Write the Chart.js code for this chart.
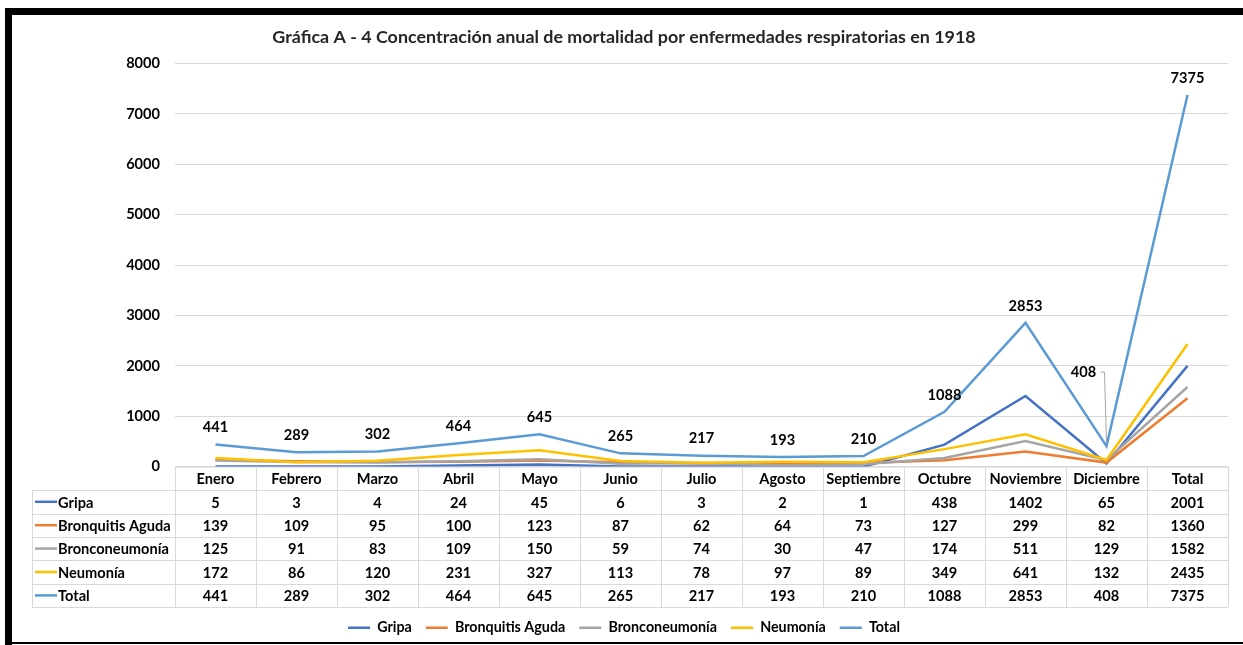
<!DOCTYPE html>
<html>
<head>
<meta charset="utf-8">
<script src="https://cdn.jsdelivr.net/npm/chart.js@4.4.1/dist/chart.umd.min.js"></script>
<style>
  html, body { margin: 0; padding: 0; background: #fff; }
  #grafica { display: block; }
</style>
</head>
<body>
<canvas id="grafica" width="1243" height="645"></canvas>
<script>
// datos de la grafica
const categorias = ['Enero', 'Febrero', 'Marzo', 'Abril', 'Mayo', 'Junio', 'Julio', 'Agosto', 'Septiembre', 'Octubre', 'Noviembre', 'Diciembre', 'Total'];
const gripa = [5, 3, 4, 24, 45, 6, 3, 2, 1, 438, 1402, 65, 2001];
const bronquitis = [139, 109, 95, 100, 123, 87, 62, 64, 73, 127, 299, 82, 1360];
const bronconeumonia = [125, 91, 83, 109, 150, 59, 74, 30, 47, 174, 511, 129, 1582];
const neumonia = [172, 86, 120, 231, 327, 113, 78, 97, 89, 349, 641, 132, 2435];
const total = [441, 289, 302, 464, 645, 265, 217, 193, 210, 1088, 2853, 408, 7375];
const yMin = 0, yMax = 8000, yPaso = 1000;

const fuente = 'Lato, "Open Sans", sans-serif';

const series = [
    { label: 'Gripa', data: gripa, color: '#4472C4' },
    { label: 'Bronquitis Aguda', data: bronquitis, color: '#ED7D31' },
    { label: 'Bronconeumonía', data: bronconeumonia, color: '#A5A5A5' },
    { label: 'Neumonía', data: neumonia, color: '#FFC000' },
    { label: 'Total', data: total, color: '#5B9BD5' }
];

// marco negro alrededor de la imagen
const marcoPlugin = {
    id: 'marco',
    beforeDraw(chart) {
        const ctx = chart.ctx;
        ctx.save();
        ctx.fillStyle = '#fff';
        ctx.fillRect(0, 0, chart.width, chart.height);
        ctx.restore();
    },
    afterDraw(chart) {
        const ctx = chart.ctx;
        ctx.save();
        ctx.fillStyle = '#000';
        ctx.fillRect(5, 8, chart.width - 5, 7);
        ctx.fillRect(5, 8, 7, chart.height - 8);
        ctx.fillRect(5, chart.height - 3, chart.width - 5, 2);
        ctx.restore();
    }
};

// tabla de datos debajo del eje x
const tablaPlugin = {
    id: 'tabla',
    afterDraw(chart) {
        const ctx = chart.ctx;
        const xs = chart.scales.x;
        const area = chart.chartArea;
        const n = categorias.length;
        const paso = xs.getPixelForValue(1) - xs.getPixelForValue(0);
        const izq = xs.getPixelForValue(0) - paso / 2;
        const der = xs.getPixelForValue(n - 1) + paso / 2;
        const filaH = 23.4;
        const arriba = area.bottom;
        const abajo = arriba + filaH * (series.length + 1);
        const colEtiqueta = 32;

        ctx.save();
        ctx.strokeStyle = '#d9d9d9';
        ctx.lineWidth = 1;
        ctx.beginPath();
        // lineas horizontales
        ctx.moveTo(izq, arriba + 0.5);
        ctx.lineTo(der, arriba + 0.5);
        for (let r = 1; r <= series.length + 1; r++) {
            const y = Math.round(arriba + filaH * r) + 0.5;
            ctx.moveTo(colEtiqueta, y);
            ctx.lineTo(der, y);
        }
        // lineas verticales
        for (let i = 0; i <= n; i++) {
            const x = Math.round(izq + paso * i) + 0.5;
            ctx.moveTo(x, arriba);
            ctx.lineTo(x, abajo);
        }
        ctx.moveTo(colEtiqueta + 0.5, arriba + filaH);
        ctx.lineTo(colEtiqueta + 0.5, abajo);
        ctx.stroke();

        ctx.fillStyle = '#000';
        ctx.font = 'bold 14.6px ' + fuente;
        ctx.textBaseline = 'middle';
        ctx.textAlign = 'center';
        categorias.forEach((c, i) => {
            ctx.fillText(c, xs.getPixelForValue(i), arriba + filaH / 2 + 1);
        });
        series.forEach((s, r) => {
            const yc = arriba + filaH * (r + 1.5) + 1;
            ctx.textAlign = 'center';
            s.data.forEach((v, i) => {
                ctx.fillText(String(v), xs.getPixelForValue(i), yc);
            });
            ctx.strokeStyle = s.color;
            ctx.lineWidth = 2.5;
            ctx.beginPath();
            ctx.moveTo(colEtiqueta + 3, yc - 1);
            ctx.lineTo(colEtiqueta + 25, yc - 1);
            ctx.stroke();
            ctx.textAlign = 'left';
            ctx.fillText(s.label, colEtiqueta + 26, yc);
        });
        ctx.restore();
    }
};

// etiquetas de la serie Total
const etiquetasPlugin = {
    id: 'etiquetas',
    afterDatasetsDraw(chart) {
        const ctx = chart.ctx;
        const idx = series.length - 1;
        const meta = chart.getDatasetMeta(idx);
        ctx.save();
        ctx.fillStyle = '#000';
        ctx.font = 'bold 14.6px ' + fuente;
        ctx.textAlign = 'center';
        ctx.textBaseline = 'middle';
        meta.data.forEach((p, i) => {
            const texto = String(total[i]);
            if (i === 11) {
                // etiqueta desplazada con linea guia
                const lx = p.x - 21, ly = p.y - 74;
                ctx.strokeStyle = '#a6a6a6';
                ctx.lineWidth = 1;
                ctx.beginPath();
                ctx.moveTo(lx + 15, ly);
                ctx.lineTo(lx + 19, ly);
                ctx.lineTo(p.x, p.y - 3);
                ctx.stroke();
                ctx.fillText(texto, lx - 2, ly);
            } else {
                ctx.fillText(texto, p.x, p.y - 17);
            }
        });
        ctx.restore();
    }
};

new Chart(document.getElementById('grafica'), {
    type: 'line',
    data: {
        labels: categorias,
        datasets: series.map((s, i) => ({
            label: s.label,
            data: s.data,
            borderColor: s.color,
            backgroundColor: s.color,
            borderWidth: 2.5,
            pointRadius: 0,
            tension: 0,
            order: series.length - i
        }))
    },
    options: {
        responsive: false,
        animation: false,
        layout: { padding: { left: 20, right: 15, top: 16, bottom: 0 } },
        plugins: {
            title: {
                display: true,
                text: 'Gráfica A - 4 Concentración anual de mortalidad por enfermedades respiratorias en 1918',
                color: '#262626',
                font: { family: fuente, size: 17.9, weight: 'bold' },
                padding: { top: 10, bottom: 16 }
            },
            legend: {
                position: 'bottom',
                labels: {
                    color: '#000',
                    font: { family: fuente, size: 14.3, weight: 'bold' },
                    usePointStyle: true,
                    pointStyle: 'line',
                    pointStyleWidth: 22,
                    padding: 14,
                    sort: (a, b) => a.datasetIndex - b.datasetIndex
                }
            },
            tooltip: { enabled: false }
        },
        scales: {
            x: {
                type: 'category',
                offset: true,
                ticks: { display: false },
                grid: { display: false },
                border: { display: false },
                afterFit(scale) { scale.height = 140; }
            },
            y: {
                min: yMin,
                max: yMax,
                ticks: {
                    stepSize: yPaso,
                    color: '#000',
                    padding: 15,
                    font: { family: fuente, size: 14.6, weight: 'bold' },
                    callback: (v) => String(v)
                },
                grid: { color: '#d9d9d9', drawTicks: false },
                border: { display: false },
                afterFit(scale) { scale.width = 155; }
            }
        }
    },
    plugins: [marcoPlugin, tablaPlugin, etiquetasPlugin]
});
</script>
</body>
</html>
